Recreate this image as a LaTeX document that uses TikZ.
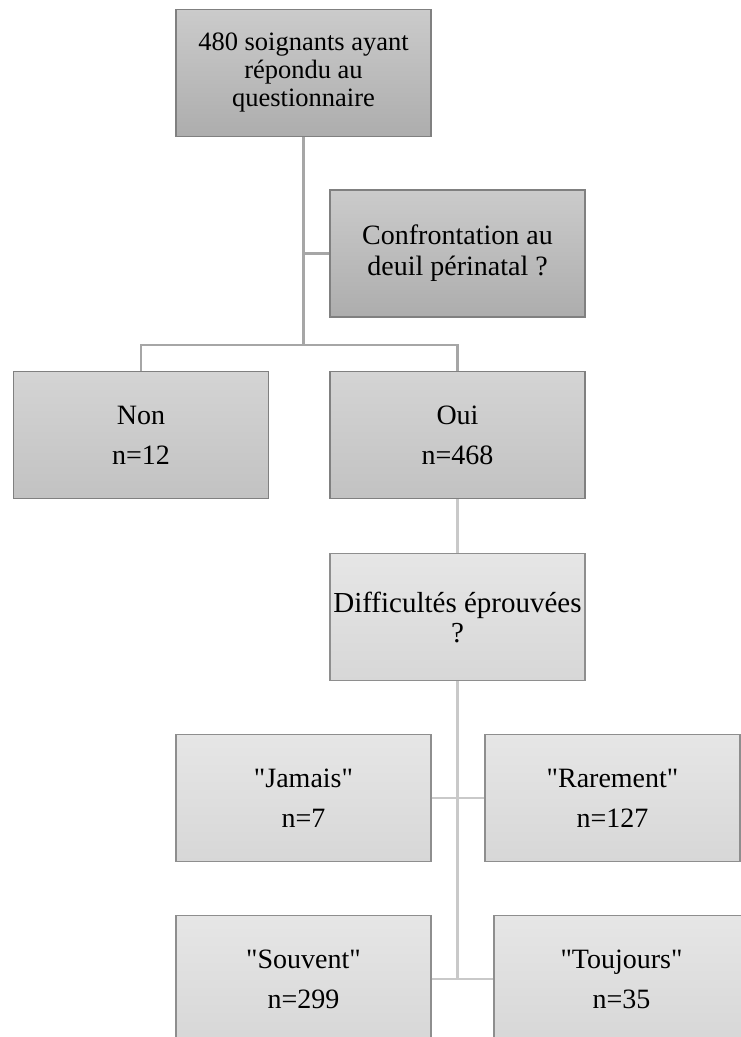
\documentclass[tikz,border=0pt]{standalone}
\usepackage{fontspec}
\setmainfont{Liberation Serif}[Ligatures=TeXOff]
\definecolor{bordA}{HTML}{808080}
\definecolor{bordB}{HTML}{8E8E8E}
\definecolor{connA}{HTML}{A6A6A6}
\definecolor{connB}{HTML}{C9C9C9}
\definecolor{darkT}{HTML}{CBCBCB}
\definecolor{darkB}{HTML}{ADADAD}
\definecolor{midT}{HTML}{D4D4D4}
\definecolor{midB}{HTML}{C2C2C2}
\definecolor{liteT}{HTML}{E6E6E6}
\definecolor{liteB}{HTML}{D7D7D7}
\tikzset{
  x=1pt, y=-1pt,
  box/.style={draw, line width=1.2pt, minimum width=255pt, minimum height=127pt,
    inner sep=0pt, align=center, text=black},
  darkbox/.style={box, draw=bordA, top color=darkT, bottom color=darkB},
  midbox/.style={box, draw=bordA, top color=midT, bottom color=midB},
  litebox/.style={box, draw=bordB, top color=liteT, bottom color=liteB},
  pairfont/.style={font=\fontsize{28}{40}\selectfont},
  connA/.style={draw=connA, line width=2.5pt},
  connB/.style={draw=connB, line width=2.5pt},
}
\begin{document}
\begin{tikzpicture}
\clip (0,0) rectangle (741,1037);
\fill[white] (0,0) rectangle (741,1037);

\node[darkbox, font=\fontsize{26.5}{28}\selectfont] (b1) at (303.5,73)
  {480 soignants ayant\\répondu au\\questionnaire};
\node[darkbox, font=\fontsize{28}{31}\selectfont] (conf) at (457.5,253.5)
  {Confrontation au\\deuil périnatal ?};
\node[midbox, pairfont] (non) at (141,435) {Non\\n=12};
\node[midbox, pairfont] (oui) at (457.5,435) {Oui\\n=468};
\node[litebox, font=\fontsize{29}{30}\selectfont] (diff) at (457.5,617)
  {Difficultés éprouvées\\?};
\node[litebox, pairfont] (jam) at (303.5,798) {"Jamais"\\n=7};
\node[litebox, pairfont] (rar) at (612.5,798) {"Rarement"\\n=127};
\node[litebox, pairfont] (sou) at (303.5,979) {"Souvent"\\n=299};
\node[litebox, pairfont] (tou) at (621.5,979) {"Toujours"\\n=35};

% upper connectors
\coordinate (j1) at (303.5,345);
\draw[connA] (b1.south) -- (j1);
\draw[connA] (b1.south |- conf.west) -- (conf.west);
\draw[connA] (non.north) |- (j1) -| (oui.north);

% lower connectors
\coordinate (j2) at (diff.south |- sou.east);
\draw[connB] (oui.south) -- (diff.north);
\draw[connB] (diff.south) -- (j2);
\draw[connB] (jam.east) -- (rar.west);
\draw[connB] (sou.east) -- (tou.west);
\end{tikzpicture}
\end{document}
